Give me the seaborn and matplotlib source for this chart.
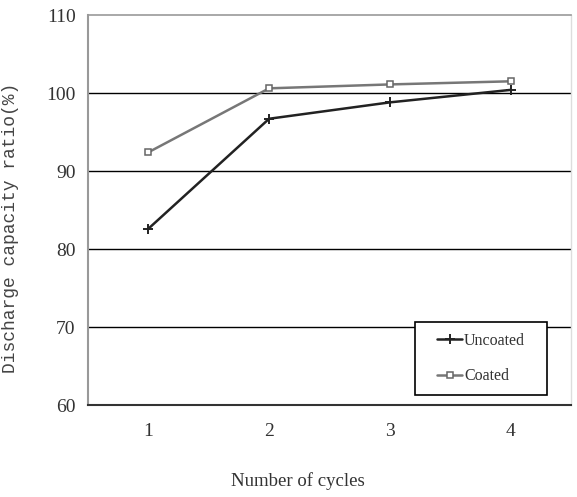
"""Discharge capacity ratio vs number of cycles, coated vs uncoated."""

import matplotlib

matplotlib.use("Agg")
import matplotlib.pyplot as plt
import pandas as pd
import seaborn as sns
from matplotlib.patches import Rectangle

# Data
cycles = [1, 2, 3, 4]
uncoated = [82.6, 96.7, 98.8, 100.4]
coated = [92.4, 100.6, 101.1, 101.5]
series_names = ["Uncoated", "Coated"]

y_ticks = [60, 70, 80, 90, 100, 110]
grid_levels = [70, 80, 90, 100]

df = pd.DataFrame(
    {
        "cycle": cycles * 2,
        "ratio": uncoated + coated,
        "series": [series_names[0]] * len(cycles) + [series_names[1]] * len(cycles),
    }
)

sns.set_style("white")
plt.rcParams["font.family"] = ["Liberation Serif", "DejaVu Serif"]

fig = plt.figure(figsize=(5.77, 4.97), dpi=100)
ax = fig.add_axes([0.1525, 0.1851, 0.8371, 0.7847])

for lvl in grid_levels:
    ax.axhline(lvl, color="black", linewidth=1.0, zorder=1)

styles = {
    "Uncoated": dict(color="#222222", marker="+", markersize=7, markeredgewidth=1.4,
                     markeredgecolor="#222222"),
    "Coated": dict(color="#777777", marker="s", markersize=5, markeredgewidth=1.1,
                   markerfacecolor="white", markeredgecolor="#666666"),
}
for name in series_names:
    sns.lineplot(
        data=df[df["series"] == name],
        x="cycle",
        y="ratio",
        label=name,
        linewidth=1.8,
        ax=ax,
        zorder=3,
        **styles[name],
    )

ax.set_xlim(0.5, 4.5)
ax.set_ylim(60, 110)
ax.set_xticks(cycles)
ax.set_xticks([1.5, 2.5, 3.5], minor=True)
ax.set_yticks(y_ticks)
ax.tick_params(axis="x", which="major", length=0, pad=13, labelsize=14,
               labelcolor="#333333")
ax.tick_params(axis="x", which="minor", direction="in", length=5, width=1, color="#444444")
ax.tick_params(axis="y", which="major", direction="out", length=4, width=1, pad=5,
               labelsize=14, color="#333333", labelcolor="#333333")

for side, col, lw in [("left", "#999999", 1.5), ("bottom", "#333333", 1.5),
                      ("top", "#999999", 1.2), ("right", "#dddddd", 1.0)]:
    ax.spines[side].set_color(col)
    ax.spines[side].set_linewidth(lw)

ax.set_xlabel("Number of cycles", fontsize=13.5, color="#333333")
ax.xaxis.set_label_coords(0.435, -0.172)
ax.set_ylabel("Discharge capacity ratio(%)", fontsize=13, color="#444444",
              family=["Liberation Mono", "DejaVu Sans Mono"])
ax.yaxis.set_label_coords(-0.143, 0.455)

# legend box drawn as a plain rectangle, entries centered inside it
ax.add_patch(Rectangle((0.677, 0.0256), 0.273, 0.187, transform=ax.transAxes,
                       facecolor="white", edgecolor="black", linewidth=1.2, zorder=5))
leg = ax.legend(
    loc="center",
    bbox_to_anchor=(0.8135, 0.119),
    frameon=False,
    fontsize=11.5,
    handlelength=1.6,
    handletextpad=0.1,
    labelspacing=1.2,
    borderaxespad=0,
)
leg.set_zorder(6)
for txt in leg.get_texts():
    txt.set_color("#333333")

fig.savefig("out.png", dpi=100)
